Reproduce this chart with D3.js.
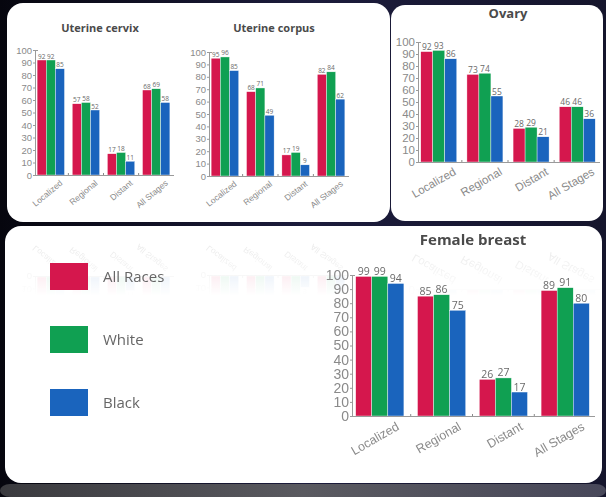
<!DOCTYPE html>
<html>
<head>
<meta charset="utf-8">
<script src="https://cdn.jsdelivr.net/npm/d3@7"></script>
<style>
  html, body { margin: 0; padding: 0; background: #14142c; }
  svg { display: block; font-family: "Open Sans", "Liberation Sans", sans-serif; }
  .tick text { fill: #8a8a8a; }
  .domain, .tick line { stroke: #9a9a9a; }
  .bar-value { fill: #6a6a6a; }
  .title { fill: #4a4a4a; font-weight: bold; }
  .legend-text { fill: #666; }
</style>
</head>
<body>
<div id="chart"></div>
<script>
// survival rates (%) by stage, per race
const stages = ["Localized", "Regional", "Distant", "All Stages"];
const races = ["All Races", "White", "Black"];
const raceColours = ["#d5174d", "#10a052", "#1a64bd"];

const cervixValues = [[92, 92, 85], [57, 58, 52], [17, 18, 11], [68, 69, 58]];
const corpusValues = [[95, 96, 85], [68, 71, 49], [17, 19, 9], [82, 84, 62]];
const ovaryValues = [[92, 93, 86], [73, 74, 55], [28, 29, 21], [46, 46, 36]];
const breastValues = [[99, 99, 94], [85, 86, 75], [26, 27, 17], [89, 91, 80]];
const yTicks = [0, 10, 20, 30, 40, 50, 60, 70, 80, 90, 100];

const width = 606, height = 497;

const svg = d3.select("#chart").append("svg")
    .attr("width", width)
    .attr("height", height);

const defs = svg.append("defs");
const bg = defs.append("linearGradient").attr("id", "bg")
    .attr("x1", 0).attr("y1", 0).attr("x2", 1).attr("y2", 0);
bg.append("stop").attr("offset", "0%").attr("stop-color", "#06060e");
bg.append("stop").attr("offset", "50%").attr("stop-color", "#1c1c3c");
bg.append("stop").attr("offset", "100%").attr("stop-color", "#15152c");

const strip = defs.append("linearGradient").attr("id", "strip")
    .attr("x1", 0).attr("y1", 0).attr("x2", 1).attr("y2", 0);
strip.append("stop").attr("offset", "0%").attr("stop-color", "#3a3a3e");
strip.append("stop").attr("offset", "50%").attr("stop-color", "#5a5a60");
strip.append("stop").attr("offset", "100%").attr("stop-color", "#48485a");

const fade = defs.append("linearGradient").attr("id", "fade")
    .attr("x1", 0).attr("y1", 0).attr("x2", 0).attr("y2", 1);
fade.append("stop").attr("offset", "0%").attr("stop-color", "white").attr("stop-opacity", 0.25);
fade.append("stop").attr("offset", "100%").attr("stop-color", "white").attr("stop-opacity", 0);
defs.append("mask").attr("id", "fadeMask")
    .attr("maskUnits", "userSpaceOnUse")
    .attr("x", 0).attr("y", 226).attr("width", width).attr("height", 70)
    .append("rect")
    .attr("x", 5).attr("y", 226).attr("width", 597).attr("height", 70)
    .attr("fill", "url(#fade)");

svg.append("rect").attr("width", width).attr("height", height).attr("fill", "url(#bg)");
svg.append("rect").attr("x", 0).attr("y", 484).attr("width", width).attr("height", 13)
    .attr("rx", 10).attr("fill", "url(#strip)");

// white panels
svg.append("rect").attr("x", 7).attr("y", 3).attr("width", 383).attr("height", 219)
    .attr("rx", 16).attr("fill", "white");
svg.append("rect").attr("x", 391).attr("y", 5).attr("width", 212).attr("height", 216)
    .attr("rx", 14).attr("fill", "white");
svg.append("rect").attr("x", 5).attr("y", 226).attr("width", 597).attr("height", 257)
    .attr("rx", 16).attr("fill", "white");

const upper = svg.append("g").attr("id", "upper");

function drawChart(parent, cfg) {
    const g = parent.append("g");

    const x = d3.scaleBand()
        .domain(stages)
        .range([cfg.left, cfg.right])
        .paddingInner(0.22)
        .paddingOuter(0.06);
    const xr = d3.scaleBand()
        .domain(races)
        .range([0, x.bandwidth()]);
    const y = d3.scaleLinear()
        .domain([0, 100])
        .range([cfg.bottom, cfg.top]);

    const groups = g.selectAll(".stage").data(cfg.values)
        .enter().append("g")
        .attr("transform", (d, i) => `translate(${x(stages[i])},0)`);

    groups.selectAll("rect").data(d => d)
        .enter().append("rect")
        .attr("x", (d, j) => xr(races[j]))
        .attr("y", d => y(d))
        .attr("width", xr.bandwidth())
        .attr("height", d => y(0) - y(d))
        .attr("fill", (d, j) => raceColours[j])
        .attr("stroke", "white")
        .attr("stroke-width", 0.4);

    groups.selectAll("text").data(d => d)
        .enter().append("text")
        .attr("class", "bar-value")
        .attr("x", (d, j) => xr(races[j]) + xr.bandwidth() / 2)
        .attr("y", d => y(d) - 1.5)
        .attr("text-anchor", "middle")
        .style("font-size", cfg.valueSize + "px")
        .text(d => d);

    const yAxis = d3.axisLeft(y)
        .tickValues(yTicks)
        .tickSize(2)
        .tickSizeOuter(0)
        .tickPadding(1);
    const yAxisG = g.append("g")
        .attr("transform", `translate(${cfg.left},0)`)
        .call(yAxis);
    yAxisG.selectAll("text").style("font-size", cfg.tickSize + "px");
    yAxisG.append("line")
        .attr("x1", 0).attr("x2", 3)
        .attr("y1", y(100) + 0.5).attr("y2", y(100) + 0.5)
        .attr("stroke", "#9a9a9a");

    const xAxis = d3.axisBottom(x).tickSize(0).tickPadding(0);
    const xAxisG = g.append("g")
        .attr("transform", `translate(0,${cfg.bottom})`)
        .call(xAxis);
    xAxisG.select(".domain").attr("d", `M${cfg.left},0.5H${cfg.right + 2}`);
    xAxisG.selectAll(".tick text")
        .attr("x", 0)
        .attr("y", 0)
        .attr("dy", 0)
        .attr("transform", `translate(${x.bandwidth() * cfg.labelDx},${cfg.labelDy}) rotate(${-cfg.labelAngle})`)
        .attr("text-anchor", "end")
        .style("font-size", cfg.labelSize + "px");
    // little ticks between the stage groups
    xAxisG.selectAll(".sep").data(stages.slice(1))
        .enter().append("line")
        .attr("x1", d => x(d) - x.step() * 0.11)
        .attr("x2", d => x(d) - x.step() * 0.11)
        .attr("y1", 0).attr("y2", -2)
        .attr("stroke", "#8a8a8a");

    g.append("text")
        .attr("class", "title")
        .attr("x", cfg.titleX)
        .attr("y", cfg.titleY)
        .attr("text-anchor", "middle")
        .style("font-size", cfg.titleSize + "px")
        .text(cfg.title);
}

drawChart(upper, {
    title: "Uterine cervix", values: cervixValues,
    left: 35, right: 172, top: 50, bottom: 175,
    titleX: 100, titleY: 32, titleSize: 11,
    tickSize: 9.5, valueSize: 6.5,
    labelSize: 8.5, labelDx: 0.45, labelDy: 9, labelAngle: 40
});
drawChart(upper, {
    title: "Uterine corpus", values: corpusValues,
    left: 209, right: 347, top: 52, bottom: 176,
    titleX: 274, titleY: 32, titleSize: 11,
    tickSize: 9.5, valueSize: 6.5,
    labelSize: 8.5, labelDx: 0.45, labelDy: 9, labelAngle: 38
});
drawChart(upper, {
    title: "Ovary", values: ovaryValues,
    left: 418, right: 598, top: 42, bottom: 162,
    titleX: 508, titleY: 18, titleSize: 13,
    tickSize: 11.5, valueSize: 8.5,
    labelSize: 11.5, labelDx: 0.5, labelDy: 12, labelAngle: 30
});

// faint mirror image of the upper panels at the top of the lower panel
svg.append("g")
    .attr("mask", "url(#fadeMask)")
    .append("use")
    .attr("href", "#upper")
    .attr("transform", "translate(0,452) scale(1,-1)");

drawChart(svg, {
    title: "Female breast", values: breastValues,
    left: 352, right: 593, top: 275, bottom: 416,
    titleX: 473, titleY: 245, titleSize: 15,
    tickSize: 14, valueSize: 10.5,
    labelSize: 12.5, labelDx: 0.42, labelDy: 13, labelAngle: 30
});

// legend
const legend = svg.append("g").attr("transform", "translate(50,263)");
const legendY = d3.scalePoint().domain(races).range([0, 126]);
const items = legend.selectAll(".item").data(races)
    .enter().append("g")
    .attr("transform", d => `translate(0,${legendY(d)})`);
items.append("rect")
    .attr("width", 38).attr("height", 27)
    .attr("fill", (d, i) => raceColours[i]);
items.append("text")
    .attr("class", "legend-text")
    .attr("x", 53).attr("y", 19)
    .style("font-size", "15px")
    .text(d => d);
</script>
</body>
</html>
